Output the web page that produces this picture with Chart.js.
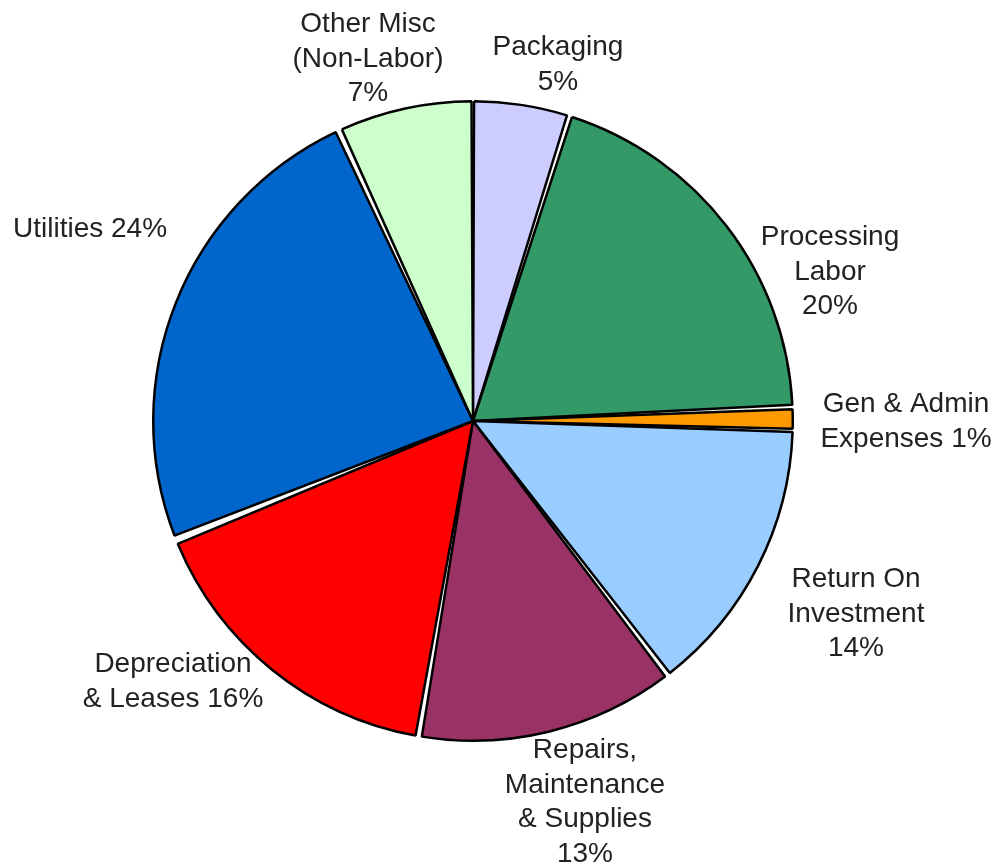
<!DOCTYPE html>
<html>
<head>
<meta charset="utf-8">
<script src="https://cdn.jsdelivr.net/npm/chart.js@4.4.1/dist/chart.umd.min.js"></script>
<style>
  body { margin: 0; background: #fff; }
  #wrap { width: 999px; height: 867px; }
</style>
</head>
<body>
<div id="wrap"><canvas id="graficoPie" width="999" height="867"></canvas></div>
<script>
// cost shares, clockwise from 12 o'clock
var categories = ['Packaging', 'Processing Labor', 'Gen & Admin Expenses', 'Return On Investment',
  'Repairs, Maintenance & Supplies', 'Depreciation & Leases', 'Utilities', 'Other Misc (Non-Labor)'];
var shares = [4.8, 19.6, 1.0, 14.2, 13.1, 16.2, 24.3, 6.8];
var pctLabels = ['5%', '20%', '1%', '14%', '13%', '16%', '24%', '7%'];
var colors = ['#ccccff', '#339966', '#ff9900', '#99ccff', '#993366', '#ff0000', '#0066cc', '#ccffcc'];

// how each label is broken into lines
var labelLines = [
  ['Packaging', '5%'],
  ['Processing', 'Labor', '20%'],
  ['Gen & Admin', 'Expenses 1%'],
  ['Return On', 'Investment', '14%'],
  ['Repairs,', 'Maintenance', '& Supplies', '13%'],
  ['Depreciation', '& Leases 16%'],
  ['Utilities 24%'],
  ['Other Misc', '(Non-Labor)', '7%']
];
// label anchor (centre x, first baseline), px offset from the pie centre
var labelOffset = [
  [85, -366], [357, -176], [433, -9], [383, 166],
  [112, 337], [-300, 251], [-383, -184], [-105, -389]
];

var outsideLabels = {
  id: 'outsideLabels',
  afterDatasetsDraw: function(chart) {
    var ctx = chart.ctx;
    var arc = chart.getDatasetMeta(0).data[0];
    ctx.save();
    ctx.fillStyle = '#222';
    ctx.font = '28px "Liberation Sans", Arial, sans-serif';
    ctx.textAlign = 'center';
    ctx.textBaseline = 'alphabetic';
    labelLines.forEach(function(lines, i) {
      var x = arc.x + labelOffset[i][0];
      var y = arc.y + labelOffset[i][1];
      lines.forEach(function(t, j) {
        ctx.fillText(t, x, y + j * 34.5);
      });
    });
    ctx.restore();
  }
};

var ctx = document.getElementById('graficoPie').getContext('2d');
var pieChart = new Chart(ctx, {
  type: 'pie',
  data: {
    labels: categories,
    datasets: [{
      data: shares,
      backgroundColor: colors,
      borderColor: '#000',
      borderWidth: 2.5,
      spacing: 7
    }]
  },
  options: {
    responsive: false,
    animation: false,
    layout: { padding: { left: 152, right: 205, top: 100, bottom: 125 } },
    plugins: {
      legend: { display: false },
      tooltip: { enabled: false }
    }
  },
  plugins: [outsideLabels]
});
</script>
</body>
</html>
